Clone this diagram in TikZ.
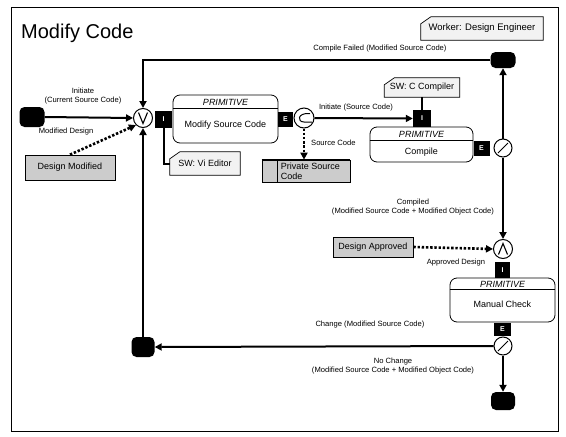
\documentclass[tikz,border=0pt]{standalone}
\usepackage{fontspec}
\setmainfont{Liberation Sans}
\usetikzlibrary{calc,arrows.meta,backgrounds}
\newcommand\cardoutline[1]{%
  \filldraw[cardline] ([yshift=-7pt]#1.north west) -- ([xshift=10pt]#1.north west) -- (#1.north east) -- (#1.south east) -- (#1.south west) -- cycle;}
\begin{document}
\begin{tikzpicture}[x=1pt,y=-1pt,
  conn/.style={line width=2pt,-{Triangle[length=7pt,width=7pt]}},
  plain/.style={line width=2pt},
  dconn/.style={line width=2.6pt,dash pattern=on 2.4pt off 1.8pt,-{Triangle[length=7pt,width=7pt]}},
  blk/.style={fill=black,rounded corners=5pt,inner sep=0pt},
  tab/.style={fill=black,text=white,font=\fontsize{7}{8}\selectfont\bfseries,inner sep=0pt},
  junc/.style={circle,draw,fill=white,line width=1pt,inner sep=0pt},
  prim/.style={draw,rounded corners=7pt,line width=0.8pt,inner sep=0pt},
  btext/.style={font=\fontsize{9}{10.5}\selectfont,inner sep=0pt},
  itext/.style={font=\fontsize{9}{10.5}\selectfont\itshape,inner sep=0pt},
  lbl/.style={font=\fontsize{7.6}{9}\selectfont,align=center,inner sep=0pt},
  shadebox/.style={draw,fill=gray!40,line width=0.7pt,inner sep=0pt,font=\fontsize{9}{10.5}\selectfont},
  cardnode/.style={inner sep=0pt,font=\fontsize{9}{10.5}\selectfont},
  cardline/.style={draw=black,fill=gray!10,line width=0.7pt},
  divline/.style={line width=0.8pt}
]
\useasboundingbox (0,0) rectangle (566,437);
\draw[line width=0.6pt] (11,7) rectangle (558,431);

\node[anchor=west,font=\fontsize{20}{24}\selectfont,inner sep=0pt] (title) at (21,33) {Modify Code};

% cards
\node[cardnode,minimum width=122pt,minimum height=23pt,font=\fontsize{9.5}{11}\selectfont] (worker) at (482,28.5) {Worker: Design Engineer};
\node[cardnode,minimum width=75pt,minimum height=19pt] (swc) at (422,87.5) {SW: C Compiler};
\node[cardnode,minimum width=70pt,minimum height=23pt] (swv) at (205,163.5) {SW: Vi Editor};
\begin{scope}[on background layer]
  \cardoutline{worker}
  \cardoutline{swc}
  \cardoutline{swv}
\end{scope}

% black terminal nodes
\node[blk,minimum width=25pt,minimum height=20pt] (start) at (32,117) {};
\node[blk,minimum width=25pt,minimum height=16pt] (top) at (503,60) {};
\node[blk,minimum width=23pt,minimum height=20pt] (left) at (143,347) {};
\node[blk,minimum width=24pt,minimum height=18pt] (bottom) at (503,401) {};

% primitive boxes
\node[prim,minimum width=105pt,minimum height=48pt] (msc) at (225.5,119) {};
\draw[divline] ($(msc.north west)+(0,14)$) -- ($(msc.north east)+(0,14)$);
\node[itext] (msc1) at (225.5,102) {PRIMITIVE};
\node[btext] (msc2) at (225.5,125) {Modify Source Code};

\node[prim,minimum width=103pt,minimum height=35pt] (cmp) at (421.5,144.5) {};
\draw[divline] ($(cmp.north west)+(0,14)$) -- ($(cmp.north east)+(0,14)$);
\node[itext] (cmp1) at (421.5,134) {PRIMITIVE};
\node[btext] (cmp2) at (421.5,152) {Compile};

\node[prim,minimum width=105pt,minimum height=44pt] (mc) at (502.5,300) {};
\draw[divline] ($(mc.north west)+(0,12)$) -- ($(mc.north east)+(0,12)$);
\node[itext] (mc1) at (502.5,284) {PRIMITIVE};
\node[btext] (mc2) at (502.5,304) {Manual Check};

% tabs
\node[tab,minimum width=17pt,minimum height=17pt] (I1) at (163.5,119) {I};
\node[tab,minimum width=15pt,minimum height=15pt] (E1) at (285.5,119) {E};
\node[tab,minimum width=18pt,minimum height=17pt] (CI) at (422,118.5) {I};
\node[tab,minimum width=16pt,minimum height=15pt] (E2) at (481.5,148) {E};
\node[tab,minimum width=15pt,minimum height=16pt] (MI) at (502.5,270) {I};
\node[tab,minimum width=17pt,minimum height=13pt] (E3) at (502.5,329.5) {E};

% junctions
\node[junc,minimum size=19pt] (V) at (143,118) {};
\draw[line width=1.1pt] ($(V)+(-4.5,-5.5)$) -- ($(V)+(0,5.5)$) -- ($(V)+(4.5,-5.5)$);
\node[junc,minimum size=20pt] (C) at (304,118) {};
\draw[line width=1pt] ($(C)+(6,-4.5)$) .. controls ($(C)+(-7,-5.5)$) and ($(C)+(-7,4)$) .. ($(C)+(0,4)$) -- ($(C)+(8,4)$);
\node[junc,minimum size=18pt] (X1) at (503,148) {};
\draw[line width=1pt] ($(X1)+(-5,5)$) -- ($(X1)+(5,-5)$);
\node[junc,minimum size=19pt] (A) at (503,249) {};
\draw[line width=1.1pt] ($(A)+(-4.5,5.5)$) -- ($(A)+(0,-5.5)$) -- ($(A)+(4.5,5.5)$);
\node[junc,minimum size=18pt] (X2) at (503,346) {};
\draw[line width=1pt] ($(X2)+(-5,5)$) -- ($(X2)+(5,-5)$);

% shaded boxes
\node[shadebox,minimum width=90pt,minimum height=25pt] (dm) at (70,167.5) {Design Modified};
\node[shadebox,minimum width=80pt,minimum height=20pt] (da) at (373,247) {Design Approved};
\node[shadebox,minimum width=88pt,minimum height=22pt] (psc) at (306,171) {};
\draw[line width=0.7pt] ($(psc.north west)+(16,0)$) -- ($(psc.south west)+(16,0)$);
\draw[line width=1.4pt] (psc.north west) -- (psc.north east);
\node[anchor=west,align=left,inner sep=0pt,font=\fontsize{9}{10}\selectfont] (psct) at ($(psc.west)+(19,0)$) {Private Source\\Code};

% connectors
\draw[conn] (start.east) -- (V.west);
\draw[conn] (top.west) -| (V.north);
\draw[conn] (X1.north) -- (top.south);
\draw[plain] (I1.south) |- (swv.west);
\draw[conn] (C.east) -- (CI.west);
\draw[plain] (swc.south) -- (CI.north);
\draw[dconn] (C.south) -- (C.south |- psc.north);
\draw[conn] (X1.south) -- (A.north);
\draw[dconn] (da.east) -- (A.west);
\draw[conn] (X2.west) -- (left.east);
\draw[conn] (left.north) -- (V.south);
\draw[conn] (X2.south) -- (bottom.north);
\draw[dconn] (dm.north) -- (V.south west);

% labels
\node[lbl] (l1) at (83,96) {Initiate\\(Current Source Code)};
\node[lbl] (l2) at (66,132) {Modified Design};
\node[lbl] (l3) at (380,49) {Compile Failed (Modified Source Code)};
\node[lbl] (l4) at (356,108) {Initiate (Source Code)};
\node[lbl,anchor=west] (l5) at (311,143) {Source Code};
\node[lbl] (l6) at (413,207.5) {Compiled\\(Modified Source Code + Modified Object Code)};
\node[lbl] (l7) at (456,263) {Approved Design};
\node[lbl] (l8) at (370,325) {Change (Modified Source Code)};
\node[lbl] (l9) at (393,366) {No Change\\(Modified Source Code + Modified Object Code)};
\end{tikzpicture}
\end{document}
